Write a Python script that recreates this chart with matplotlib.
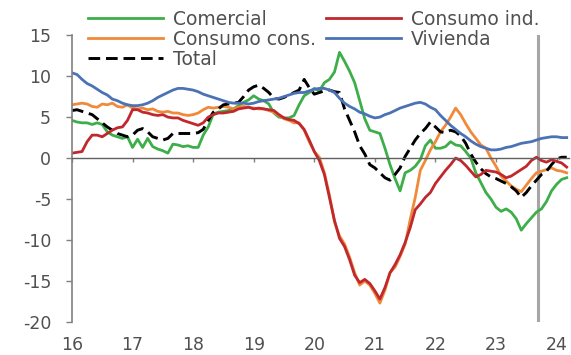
import numpy as np
import matplotlib
matplotlib.use('Agg')
import matplotlib.pyplot as plt

plt.rcParams['font.family'] = ['DejaVu Sans']
plt.rcParams['axes.unicode_minus'] = False

# Monthly series, Jan 2016 - Mar 2024 (% yoy)
start_year = 2016
comercial = [4.6, 4.4, 4.3, 4.3, 4.1, 4.3, 4.1, 3.2, 2.8, 2.6, 2.4, 2.6,
             1.3, 2.3, 1.3, 2.4, 1.4, 1.1, 0.9, 0.6, 1.7, 1.6, 1.4, 1.5,
             1.3, 1.3, 2.8, 3.8, 5.4, 5.6, 5.7, 5.8, 6.0, 6.4, 6.8, 7.1,
             7.6, 7.2, 7.0, 6.6, 5.5, 5.0, 4.9, 4.9, 5.2, 6.5, 7.6, 8.0,
             8.5, 8.2, 9.2, 9.6, 10.5, 12.9, 11.8, 10.6, 9.2, 7.0, 4.8, 3.4,
             3.2, 3.0, 1.2, -0.8, -2.5, -4.0, -1.8, -1.5, -1.0, -0.2, 1.5, 2.2,
             1.2, 1.2, 1.4, 2.0, 1.6, 1.5, 0.8, 0.0, -1.8, -3.0, -4.2, -5.0,
             -6.0, -6.5, -6.2, -6.6, -7.4, -8.8, -8.0, -7.3, -6.6, -6.2, -5.3, -4.0,
             -3.2, -2.6, -2.4]
consumo_ind = [0.6, 0.7, 0.8, 2.0, 2.8, 2.8, 2.6, 3.0, 3.4, 3.7, 3.8, 4.6,
               5.9, 5.9, 5.6, 5.5, 5.3, 5.2, 5.3, 5.0, 4.9, 4.9, 4.6, 4.4,
               4.2, 4.0, 4.3, 5.0, 5.3, 5.5, 5.5, 5.6, 5.7, 6.0, 6.1, 6.2,
               6.0, 6.1, 6.0, 5.9, 5.8, 5.3, 4.9, 4.7, 4.6, 4.2, 3.5, 2.2,
               0.8, -0.3, -2.0, -4.8, -7.6, -9.8, -10.8, -12.4, -14.3, -15.2, -14.8, -15.3,
               -16.2, -17.2, -15.8, -14.0, -13.0, -11.8, -10.3, -8.5, -6.3, -5.6, -4.8, -4.2,
               -3.1, -2.3, -1.5, -0.8, 0.0, -0.3, -0.9, -1.6, -2.3, -2.0, -1.5, -1.6,
               -1.7, -2.0, -2.4, -2.2, -1.8, -1.4, -1.0, -0.3, 0.1, -0.3, -0.5, -0.2,
               -0.4, -0.6, -1.1]
consumo_cons = [6.5, 6.6, 6.7, 6.6, 6.3, 6.2, 6.6, 6.5, 6.7, 6.3, 6.2, 6.5,
                6.1, 6.0, 6.1, 5.9, 6.0, 5.7, 5.6, 5.7, 5.5, 5.5, 5.3, 5.2,
                5.3, 5.5, 5.9, 6.2, 6.1, 6.2, 6.3, 6.2, 6.0, 6.2, 6.3, 6.2,
                6.1, 6.0, 6.0, 5.8, 5.6, 5.2, 4.8, 4.6, 4.3, 4.3, 3.4, 2.0,
                0.8, 0.1, -1.8, -4.5, -7.8, -9.5, -10.5, -12.1, -14.0, -15.5, -15.0, -15.5,
                -16.5, -17.7, -16.1, -14.0, -13.3, -12.0, -10.5, -7.5, -4.8, -1.5, -0.3, 1.0,
                2.0, 3.2, 4.0, 5.0, 6.1, 5.3, 4.2, 3.2, 2.4, 1.6, 1.2, 0.0,
                -1.0, -2.2, -2.8, -3.4, -3.8, -4.1, -3.3, -2.5, -1.8, -1.6, -1.4, -1.2,
                -1.5, -1.6, -1.8]
vivienda = [10.4, 10.2, 9.6, 9.1, 8.8, 8.4, 8.0, 7.7, 7.2, 7.0, 6.7, 6.5,
            6.4, 6.4, 6.5, 6.7, 7.0, 7.4, 7.7, 8.0, 8.3, 8.5, 8.5, 8.4,
            8.3, 8.1, 7.8, 7.6, 7.4, 7.2, 7.0, 6.8, 6.7, 6.7, 6.7, 6.6,
            6.7, 6.9, 7.0, 7.1, 7.2, 7.3, 7.5, 7.7, 7.9, 8.0, 8.0, 8.2,
            8.4, 8.5, 8.5, 8.3, 8.0, 7.3, 6.7, 6.3, 6.0, 5.6, 5.4, 5.1,
            4.9, 5.0, 5.3, 5.5, 5.8, 6.1, 6.3, 6.5, 6.7, 6.8, 6.6, 6.2,
            5.9, 5.2, 4.6, 4.0, 3.5, 3.0, 2.6, 2.1, 1.7, 1.4, 1.2, 1.0,
            1.0, 1.1, 1.3, 1.4, 1.6, 1.8, 1.9, 2.0, 2.2, 2.4, 2.5, 2.6,
            2.6, 2.5, 2.5]
total = [5.8, 5.9, 5.7, 5.5, 5.3, 4.8, 4.3, 3.8, 3.4, 3.0, 2.8, 2.6,
         2.8, 3.4, 3.6, 3.2, 2.6, 2.4, 2.2, 2.4, 3.0, 3.0, 3.0, 3.0,
         3.0, 3.1, 3.5, 4.6, 5.6, 6.0, 6.5, 6.6, 6.7, 6.8, 7.5, 8.3,
         8.7, 8.9, 8.5, 8.0, 7.3, 7.2, 7.4, 7.7, 8.0, 8.3, 9.6, 8.6,
         7.8, 8.0, 8.2, 8.3, 8.1, 8.0, 6.0, 4.6, 3.2, 1.5, 0.5, -0.8,
         -1.2, -1.8, -2.4, -2.7, -2.0, -1.2, 0.2, 1.2, 2.2, 3.0, 3.6, 4.4,
         3.8, 3.2, 3.1, 3.4, 3.2, 2.7, 1.8, 0.5, -0.5, -1.3, -1.9, -2.3,
         -2.5, -2.8, -3.1, -3.5, -4.0, -4.8, -4.2, -3.4, -2.7, -2.0, -1.6, -0.8,
         -0.1, 0.1, 0.1]
cutoff = 2023.69
year_ticks = [2016, 2017, 2018, 2019, 2020, 2021, 2022, 2023, 2024]
year_labels = ['16', '17', '18', '19', '20', '21', '22', '23', '24']
y_ticks = [15, 10, 5, 0, -5, -10, -15, -20]

t = start_year + np.arange(len(total)) / 12
text_grey = '#505050'

fig = plt.figure(figsize=(5.71, 3.55), dpi=100)
ax = fig.add_axes([0.126, 0.093, 0.87, 0.808])

ax.axvline(cutoff, color='#a6a6a6', lw=2.2, zorder=1)
ax.plot(t, comercial, color='#3dae49', lw=2.0, label='Comercial')
ax.plot(t, consumo_cons, color='#f08a3a', lw=2.0, label='Consumo cons.')
ax.plot(t, total, color='black', lw=2.1, ls=(0, (4, 2)), label='Total')
ax.plot(t, consumo_ind, color='#c0282d', lw=2.0, label='Consumo ind.')
ax.plot(t, vivienda, color='#4a72b5', lw=2.0, label='Vivienda')

ax.set_xlim(2016, 2024.2)
ax.set_ylim(-20, 15)

for s in ['top', 'right']:
    ax.spines[s].set_visible(False)
ax.spines['left'].set_color('#808080')
ax.spines['left'].set_linewidth(1.2)
ax.spines['bottom'].set_position(('data', 0))
ax.spines['bottom'].set_color('#606060')
ax.spines['bottom'].set_linewidth(1.0)

ax.set_yticks(y_ticks)
ax.tick_params(axis='y', length=4, width=1.0, color='#808080', pad=11,
               labelsize=12.5, labelcolor=text_grey)
ax.set_xticks(year_ticks)
ax.tick_params(axis='x', length=3, width=1.0, color='#808080', labelbottom=False)

sec = ax.secondary_xaxis('bottom')
sec.set_xticks(year_ticks)
sec.set_xticklabels(year_labels)
sec.spines['bottom'].set_visible(False)
sec.tick_params(length=0, pad=10, labelsize=12.5, labelcolor=text_grey)

fig.legend(loc='upper left', bbox_to_anchor=(0.154, 0.972), ncol=2, frameon=False,
           fontsize=13.5, handlelength=4.0, handletextpad=0.53, columnspacing=0.55,
           labelspacing=0.05, borderpad=0, borderaxespad=0, labelcolor=text_grey)

fig.savefig('out.png', dpi=100)
